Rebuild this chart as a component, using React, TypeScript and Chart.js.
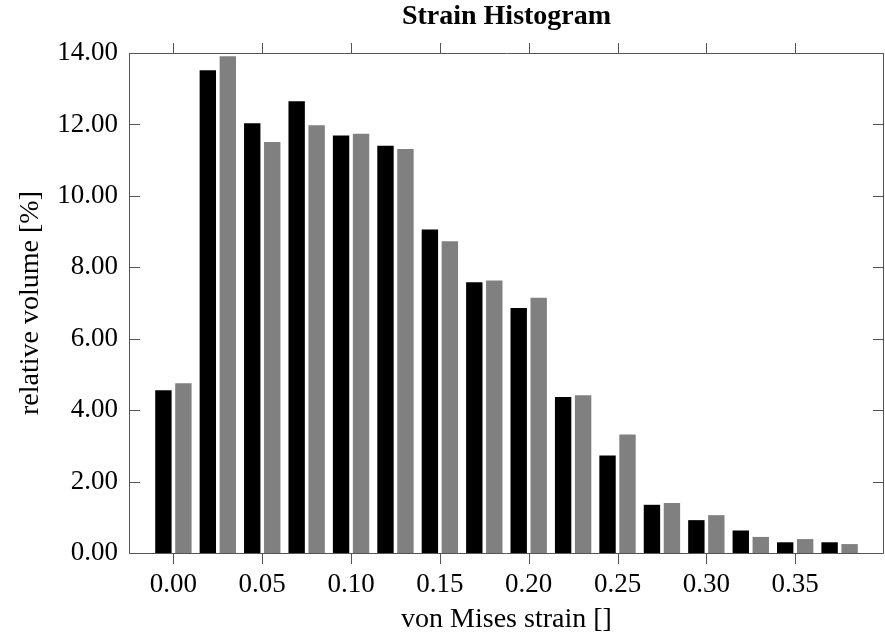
import React, { useEffect, useRef } from 'react';
import { Chart, registerables } from 'chart.js';

Chart.register(...registerables);

// bin centres (von Mises strain)
const binCenters = [0, 0.025, 0.05, 0.075, 0.1, 0.125, 0.15, 0.175, 0.2, 0.225, 0.25, 0.275, 0.3, 0.325, 0.35, 0.375];
// relative volume [%], first series (black)
const seriesBlack = [4.56, 13.52, 12.03, 12.65, 11.69, 11.4, 9.06, 7.58, 6.86, 4.37, 2.73, 1.35, 0.92, 0.63, 0.3, 0.3];
// relative volume [%], second series (gray)
const seriesGray = [4.75, 13.91, 11.51, 11.98, 11.74, 11.31, 8.73, 7.63, 7.15, 4.42, 3.32, 1.4, 1.06, 0.45, 0.39, 0.25];

const xTickValues = [0, 0.05, 0.1, 0.15, 0.2, 0.25, 0.3, 0.35];
const yTickValues = [0, 2, 4, 6, 8, 10, 12, 14];

const titleText = 'Strain Histogram';
const xTitle = 'von Mises strain []';
const yTitle = 'relative volume [%]';

const SERIF = '"Liberation Serif", "Times New Roman", serif';

const framePlugin = {
  id: 'frameTicks',
  afterDatasetsDraw(chart: any) {
    const { ctx, chartArea, scales } = chart;
    const { left, right, top, bottom } = chartArea;
    const x = scales.x;
    const y = scales.y;
    const L = 10.5;
    ctx.save();
    ctx.strokeStyle = '#555555';
    ctx.lineWidth = 1;
    ctx.beginPath();
    const l = Math.round(left) + 0.5;
    const r = Math.round(right) - 0.5;
    const t = Math.round(top) + 0.5;
    const b = Math.round(bottom) + 0.5;
    ctx.rect(l, t, r - l, b - t);
    xTickValues.forEach((v) => {
      const px = Math.round(x.getPixelForValue(v)) + 0.5;
      ctx.moveTo(px, b);
      ctx.lineTo(px, b + L);
      ctx.moveTo(px, t);
      ctx.lineTo(px, t - L);
    });
    yTickValues.forEach((v) => {
      const py = Math.round(y.getPixelForValue(v)) + 0.5;
      ctx.moveTo(l, py);
      ctx.lineTo(l + L, py);
      ctx.moveTo(r, py);
      ctx.lineTo(r - L, py);
    });
    ctx.stroke();
    // title centred over the plot area
    ctx.fillStyle = '#000';
    ctx.font = `bold 28px ${SERIF}`;
    ctx.textAlign = 'center';
    ctx.textBaseline = 'alphabetic';
    ctx.fillText(titleText, (left + right) / 2, 23.5);
    ctx.restore();
  },
};

export default function App() {
  const canvasRef = useRef<HTMLCanvasElement | null>(null);

  useEffect(() => {
    const canvas = canvasRef.current;
    if (!canvas) return;
    const chart = new Chart(canvas, {
      type: 'bar',
      data: {
        datasets: [
          {
            label: 'a',
            data: binCenters.map((x, i) => ({ x, y: seriesBlack[i] })),
            backgroundColor: '#000000',
            borderWidth: 0,
            categoryPercentage: 0.9,
            barPercentage: 0.82,
          },
          {
            label: 'b',
            data: binCenters.map((x, i) => ({ x, y: seriesGray[i] })),
            backgroundColor: '#808080',
            borderWidth: 0,
            categoryPercentage: 0.9,
            barPercentage: 0.82,
          },
        ],
      },
      options: {
        animation: false,
        responsive: false,
        devicePixelRatio: 1,
        layout: { padding: { left: 0, right: 1, top: 53, bottom: 0 } },
        plugins: {
          legend: { display: false },
          tooltip: { enabled: false },
          title: { display: false },
        },
        scales: {
          x: {
            type: 'linear',
            min: -0.025,
            max: 0.4,
            offset: false,
            grid: { display: false, drawTicks: false },
            border: { display: false },
            afterBuildTicks: (s: any) => {
              s.ticks = xTickValues.map((v) => ({ value: v }));
            },
            afterFit: (s: any) => {
              s.height = 82;
            },
            ticks: {
              autoSkip: false,
              maxRotation: 0,
              color: '#000',
              padding: 16,
              font: { family: SERIF, size: 27 },
              callback: (v: any) => Number(v).toFixed(2),
            },
            title: {
              display: true,
              text: xTitle,
              color: '#000',
              font: { family: SERIF, size: 28, lineHeight: 1.1 },
              padding: { top: 0, bottom: 0 },
            },
          },
          y: {
            type: 'linear',
            min: 0,
            max: 14,
            grid: { display: false, drawTicks: false },
            border: { display: false },
            afterBuildTicks: (s: any) => {
              s.ticks = yTickValues.map((v) => ({ value: v }));
            },
            afterFit: (s: any) => {
              s.width = 129;
            },
            ticks: {
              color: '#000',
              padding: 11,
              font: { family: SERIF, size: 27 },
              callback: (v: any) => Number(v).toFixed(2),
            },
            title: {
              display: true,
              text: yTitle,
              color: '#000',
              font: { family: SERIF, size: 28, lineHeight: 1.1 },
              padding: { top: 15, bottom: 0 },
            },
          },
        },
      },
      plugins: [framePlugin],
    } as any);
    return () => chart.destroy();
  }, []);

  return (
    <div style={{ position: 'fixed', left: 0, top: 0, width: 885, height: 635, background: '#fff' }}>
      <canvas ref={canvasRef} width={885} height={635} style={{ display: 'block', width: 885, height: 635 }} />
    </div>
  );
}
